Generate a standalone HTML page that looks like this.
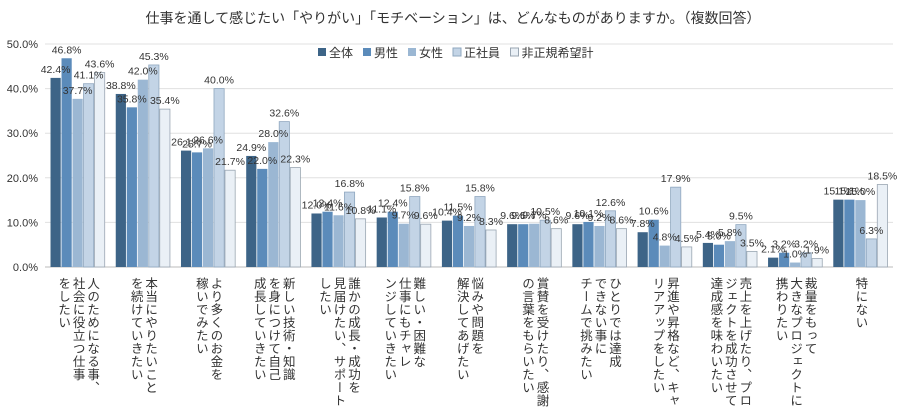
<!DOCTYPE html>
<html><head><meta charset="utf-8">
<style>
body{margin:0;background:#fff;width:907px;height:413px;overflow:hidden;font-family:"Liberation Sans","Noto Sans CJK JP",sans-serif;}
svg text{font-family:"Liberation Sans","Noto Sans CJK JP",sans-serif;}
</style></head>
<body>
<svg id="chart" width="907" height="413" xmlns="http://www.w3.org/2000/svg">
<text x="453" y="23" text-anchor="middle" font-size="14" fill="#333">仕事を通して感じたい「やりがい」「モチベーション」は、どんなものがありますか。（複数回答）</text>
<g id="grid"></g><g id="bars"></g><g id="labels"></g><g id="legend"></g>
</svg>
<script>
const categories=[
["人のためになる事、","社会に役立つ仕事","をしたい"],
["本当にやりたいこと","を続けていきたい"],
["より多くのお金を","稼いでみたい"],
["新しい技術・知識","を身につけて自己","成長していきたい"],
["誰かの成長・成功を","見届けたい、サポート","したい"],
["難しい・困難な","仕事にもチャレ","ンジしていきたい"],
["悩みや問題を","解決してあげたい"],
["賞賛を受けたり、感謝","の言葉をもらいたい"],
["ひとりでは達成","できない事に","チームで挑みたい"],
["昇進や昇格など、キャ","リアアップをしたい"],
["売上を上げたり、プロ","ジェクトを成功させて","達成感を味わいたい"],
["裁量をもって","大きなプロジェクトに","携わりたい"],
["特にない"]];
const seriesNames=["全体","男性","女性","正社員","非正規希望計"];
const s0=[42.4,38.8,26.1,24.9,12.0,11.1,10.4,9.6,9.6,7.8,5.4,2.1,15.1];
const s1=[46.8,35.8,25.7,22.0,12.4,12.4,11.5,9.6,10.1,10.6,5.0,3.2,15.1];
const s2=[37.7,42.0,26.6,28.0,11.6,9.7,9.2,9.7,9.2,4.8,5.8,1.0,15.0];
const s3=[41.1,45.3,40.0,32.6,16.8,15.8,15.8,10.5,12.6,17.9,9.5,3.2,6.3];
const s4=[43.6,35.4,21.7,22.3,10.8,9.6,8.3,8.6,8.6,4.5,3.5,1.9,18.5];
const yTicks=[0,10,20,30,40,50];
const series=[s0,s1,s2,s3,s4];
const colors=["#3d6487","#5b8bba","#9bb7d3","#c3d4e6","#eaf0f6"];
const strokes=["none","none","none","#8fa7bf","#9aa6b2"];
const NS="http://www.w3.org/2000/svg";
const X0=45,W=848,Y0=267,PX=4.46;
const cw=W/categories.length;
const yS=v=>Y0-v*PX;
const xC=i=>X0+cw*i+cw/2;
function mk(t,a,p){const e=document.createElementNS(NS,t);for(const k in a)e.setAttribute(k,a[k]);p.appendChild(e);return e;}
const grid=document.getElementById('grid'),bars=document.getElementById('bars'),labels=document.getElementById('labels'),legend=document.getElementById('legend');
yTicks.forEach(t=>{
 const l=mk('line',{x1:X0,x2:X0+W,y1:yS(t),y2:yS(t),stroke:t==0?'#bbb':'#e0e0e0','stroke-width':1},grid);
 
 
 const tx=mk('text',{x:38,y:yS(t)+4,'text-anchor':'end','font-size':11,fill:'#333'},grid);
 tx.textContent=t.toFixed(1)+'%';
 
 
});
const bw=10.2,gap=0.8;
categories.forEach((c,i)=>{
 const start=xC(i)-(5*bw+4*gap)/2;
 series.forEach((s,j)=>{
  const v=s[i],x=start+j*(bw+gap);
  const r=mk('rect',{x:x,y:yS(v),width:bw,height:v*PX,fill:colors[j],stroke:strokes[j],'stroke-width':0.8},bars);
  
  
  const t=mk('text',{x:x+bw/2,y:yS(v)-5,'text-anchor':'middle','font-size':10.5,fill:'#333'},labels);
  t.textContent=v.toFixed(1)+'%';
  
  
 });
 const n=c.length,lh=14.5;
 c.forEach((line,k)=>{
  const x=xC(i)+(n-1)*lh/2-k*lh;
  const t=mk('text',{x:x,y:277,'font-size':12.5,fill:'#333','writing-mode':'vertical-rl',style:'writing-mode:vertical-rl;letter-spacing:0.5px'},labels);
  t.textContent=line;
  
  
 });
});
let lx=318;
seriesNames.forEach((n,j)=>{
 const r=mk('rect',{x:lx,y:48,width:8,height:8,fill:colors[j],stroke:strokes[j]},legend);
 
 
 const t=mk('text',{x:lx+11,y:57,'font-size':12,fill:'#333'},legend);
 t.textContent=n;
 
 
 lx+=11+n.length*12.5+9;
});
</script>
</body></html>
